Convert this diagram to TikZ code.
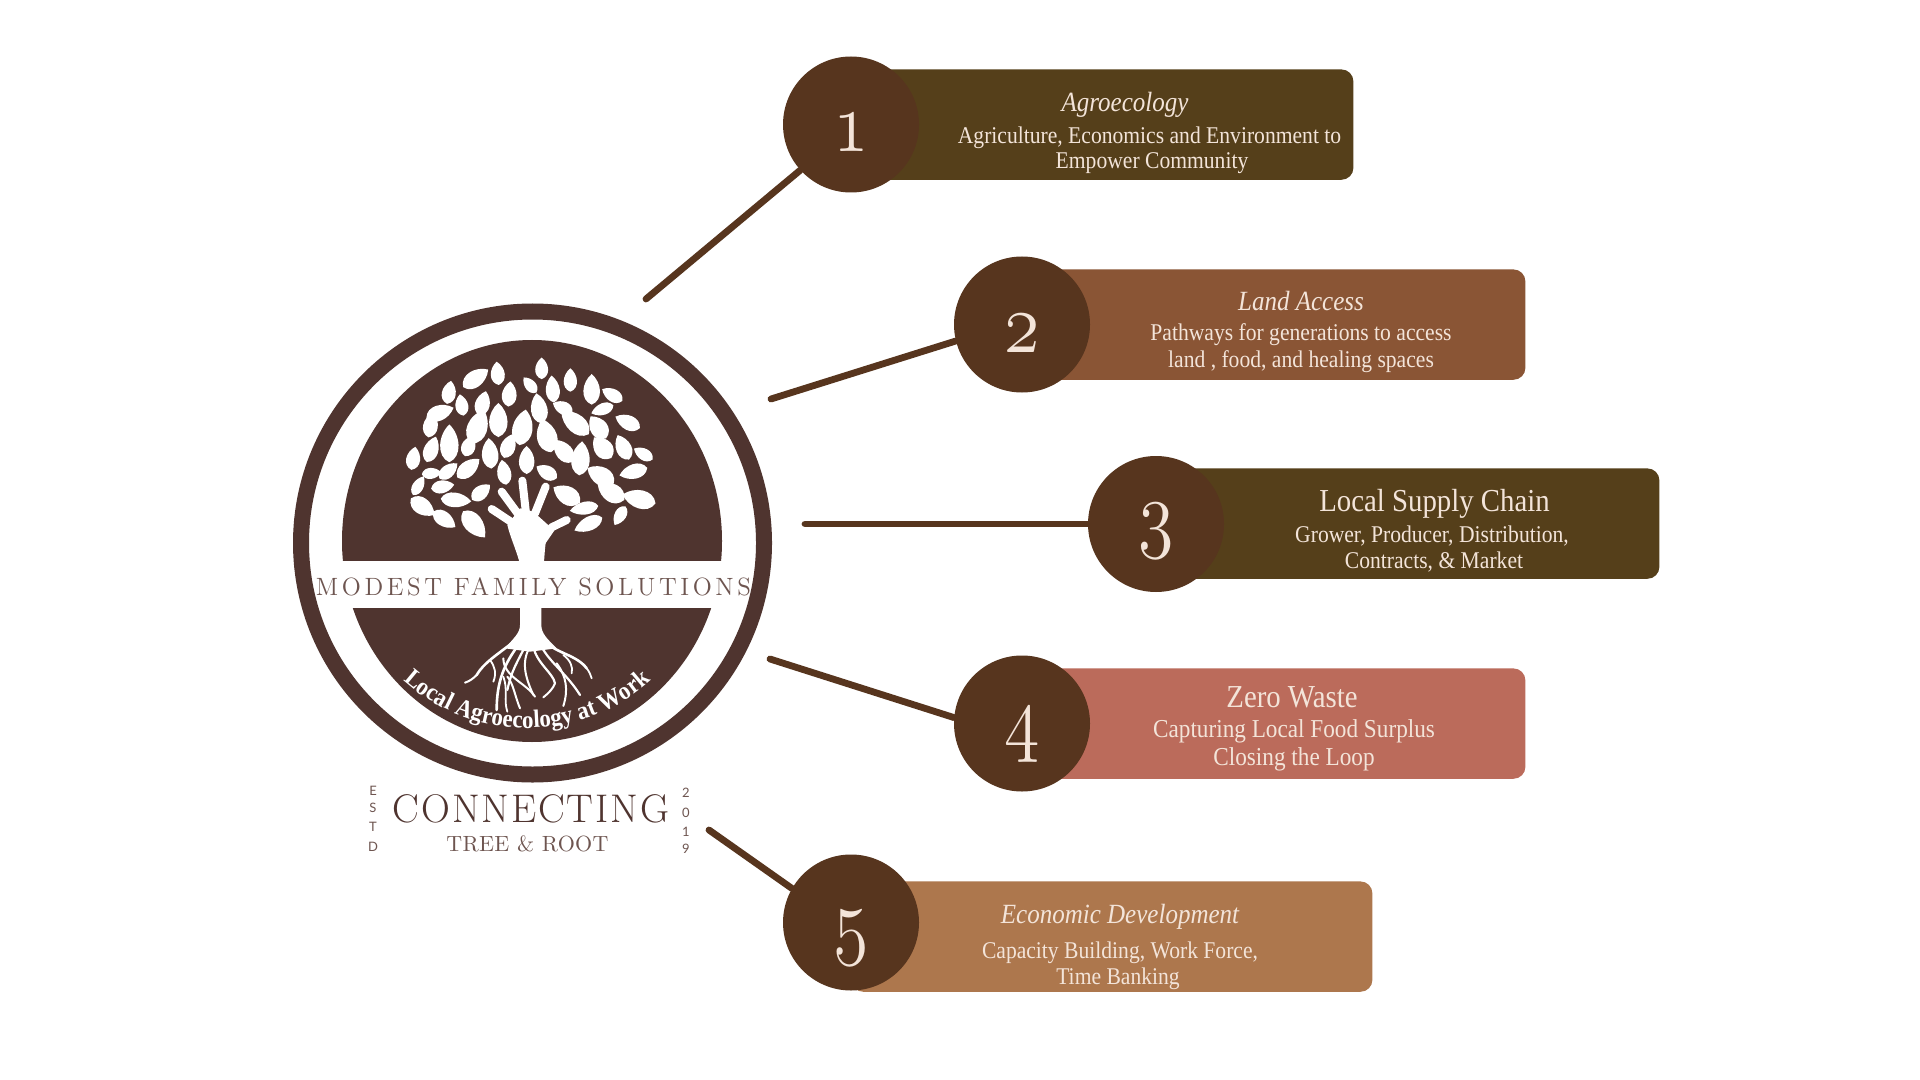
\documentclass[tikz,border=0pt]{standalone}
\usepackage{fontspec}
\usetikzlibrary{decorations.text}
\newfontfamily\barfont[FakeStretch=0.90]{Liberation Serif}
\newfontfamily\arcfont[FakeStretch=0.92]{Liberation Serif}
\newfontfamily\smallsans{Lato}
\newfontfamily\wideA[LetterSpace=14.5]{Latin Modern Roman}
\newfontfamily\wideB[LetterSpace=4.7]{Latin Modern Roman}
\newfontfamily\wideC[LetterSpace=1.5]{Latin Modern Roman}
\definecolor{logobrown}{HTML}{4F342F}
\definecolor{logothin}{HTML}{6E5550}
\definecolor{circbrown}{HTML}{57351E}
\definecolor{barolive}{HTML}{553F1A}
\definecolor{barrust}{HTML}{8A5535}
\definecolor{barcoral}{HTML}{BB6B5B}
\definecolor{bartan}{HTML}{AD774D}
\definecolor{creamtext}{HTML}{F3E4D9}
\newcommand{\oldnum}[1]{\scalebox{1.45}[1.75]{\usefont{OML}{cmm}{m}{it}\fontsize{24.88}{25}\selectfont #1}}
\tikzset{
  numcircle/.style={circle,fill=circbrown,minimum size=68pt,inner sep=0pt},
  barbox/.style={rounded corners=6pt,minimum height=55.2pt,anchor=north west,inner sep=0pt},
  connector/.style={draw=circbrown,line width=3.4pt,line cap=round},
  numeral/.style={anchor=base,inner sep=0pt,text=creamtext},
  headital/.style={anchor=base,inner sep=0pt,text=creamtext,font={\barfont\itshape\fontsize{13.9}{14}\selectfont}},
  headrom/.style={anchor=base,inner sep=0pt,text=creamtext,font={\barfont\fontsize{16}{16}\selectfont}},
  bodyline/.style={anchor=base,inner sep=0pt,text=creamtext,font={\barfont\fontsize{12}{12}\selectfont}},
  bodywide/.style={anchor=base,inner sep=0pt,text=creamtext,font={\barfont\fontsize{12.9}{13}\selectfont}},
  logotext/.style={anchor=base,inner sep=0pt,text=logobrown},
  vletter/.style={anchor=center,inner sep=0pt,text=logothin,font={\smallsans\fontsize{6.5}{6.5}\selectfont}}
}
\begin{document}
\begin{tikzpicture}[x=0.5pt,y=-0.5pt]
\useasboundingbox (0,0) rectangle (1920,1080);
\fill[white] (0,0) rectangle (1920,1080);

% connector free ends
\coordinate (e1) at (646,299);
\coordinate (e2) at (771,399);
\coordinate (e3) at (805,524);
\coordinate (e4) at (770,659);
\coordinate (e5) at (709,830);

% bars
\node[barbox,fill=barolive,minimum width=251pt] (b1) at (851,69) {};
\node[barbox,fill=barrust,minimum width=251.5pt] (b2) at (1022,269) {};
\node[barbox,fill=barolive,minimum width=251.5pt] (b3) at (1156,468) {};
\node[barbox,fill=barcoral,minimum width=251.5pt] (b4) at (1022,668) {};
\node[barbox,fill=bartan,minimum width=260.5pt] (b5) at (851,881) {};

% circles
\node[numcircle] (c1) at (851,124.5) {};
\node[numcircle] (c2) at (1022,324.5) {};
\node[numcircle] (c3) at (1156,524) {};
\node[numcircle] (c4) at (1022,723.5) {};
\node[numcircle] (c5) at (851,922.5) {};

% connectors
\draw[connector] (e1) -- (c1.222);
\draw[connector] (e2) -- (c2.194);
\draw[connector] (e3) -- (c3.180);
\draw[connector] (e4) -- (c4.175);
\draw[connector] (e5) -- (c5.150);

% numerals
\node[numeral] (n1) at (851,152) {\oldnum{1}};
\node[numeral] (n2) at (1022,352) {\oldnum{2}};
\node[numeral] (n3) at (1156,541) {\oldnum{3}};
\node[numeral] (n4) at (1022,745) {\oldnum{4}};
\node[numeral] (n5) at (851,948) {\oldnum{5}};

% bar texts
\node[headital] (h1) at (1125,112) {Agroecology};
\node[bodyline] (s1a) at (1149.5,144) {Agriculture, Economics and Environment to};
\node[bodyline] (s1b) at (1152,169) {Empower Community};
\node[headital] (h2) at (1301,311) {Land Access};
\node[bodyline] (s2a) at (1301,341) {Pathways for generations to access};
\node[bodyline] (s2b) at (1301,367) {land , food, and healing spaces};
\node[headrom] (h3) at (1434.5,511) {Local Supply Chain};
\node[bodyline] (s3a) at (1432,542) {Grower, Producer, Distribution,};
\node[bodyline] (s3b) at (1434,568) {Contracts, \& Market};
\node[headrom] (h4) at (1292,707) {Zero Waste};
\node[bodywide] (s4a) at (1294,737) {Capturing Local Food Surplus};
\node[bodywide] (s4b) at (1294,765) {Closing the Loop};
\node[headital] (h5) at (1120,923) {Economic Development};
\node[bodyline] (s5a) at (1120,958) {Capacity Building, Work Force,};
\node[bodyline] (s5b) at (1118,984) {Time Banking};

% logo
\draw[logobrown,line width=8pt] (532.5,543) circle[radius=231.5];
\fill[logobrown] (532,541) ellipse[x radius=190,y radius=201];
\fill[white] (335,561) rectangle (730,608);

% leaves and hand (coordinates of a 3x crop)
\begin{scope}[shift={(270,290)},x=0.16667pt,y=-0.16667pt]
\foreach \lx/\ly/\la/\ll/\lw in {
617/265/-55/85/45,683/250/5/65/38,815/235/0/60/35,780/285/40/55/30,848/297/5/75/38,
901/270/0/65/36,965/298/0/85/45,1027/315/60/65/35,537/307/-10/65/38,575/345/10/60/35,
638/340/-15/70/40,718/312/-5/70/40,807/355/10/85/45,878/353/65/60/35,997/358/110/65/32,
510/368/-70/80/42,482/405/-10/70/40,623/410/-20/100/55,685/390/0/95/50,758/412/-10/100/55,
830/437/15/95/55,915/398/50/100/50,985/412/35/75/48,1073/397/65/75/40,484/478/-20/75/40,
538/460/0/105/50,596/468/-20/60/38,660/490/5/85/45,715/468/-20/70/40,880/483/40/80/45,
998/473/40/75/50,1060/472/25/75/42,1120/492/60/60/32,430/505/-10/65/38,485/550/-85/55/30,
535/543/-50/65/35,595/535/-50/80/42,770/510/0/78/42,702/547/10/70/38,830/547/60/65/38,
932/505/-5/95/50,992/557/60/85/50,1090/545/105/80/40,445/587/-30/60/30,518/590/-80/65/35,
633/607/-50/65/38,558/630/-95/85/40,890/615/60/85/50,1023/607/60/85/50,1107/627/75/95/50,
458/650/-125/80/45,523/688/-125/75/40,612/703/-140/95/50,942/655/100/80/35,955/702/115/85/38,
1050/677/150/60/32}{
  \fill[white,shift={(\lx,\ly)},rotate=\la,xscale=\lw*1.1,yscale=\ll*1.08]
    (0,-.5) .. controls (.62,-.22) and (.72,.35) .. (0,.5)
            .. controls (-.72,.35) and (-.62,-.22) .. (0,-.5) -- cycle;
}
\fill[white] (748,815) .. controls (735,770) and (722,745) .. (712,705) -- (750,655) -- (790,665)
  -- (840,710) .. controls (825,745) and (825,780) .. (822,815) -- cycle;
\draw[white,line width=4pt,line cap=round,line join=round] (665,657) -- (730,700);
\draw[white,line width=4pt,line cap=round,line join=round] (695,605) -- (750,680);
\draw[white,line width=4pt,line cap=round,line join=round] (757,572) -- (768,670);
\draw[white,line width=4pt,line cap=round,line join=round] (827,590) -- (795,670);
\draw[white,line width=4pt,line cap=round,line join=round] (890,690) -- (845,712) -- (812,760);
\end{scope}

% roots (coordinates of a 3x crop)
\begin{scope}[shift={(270,580)},x=0.16667pt,y=-0.16667pt]
\fill[white] (750,80) -- (750,135) .. controls (750,160) and (730,175) .. (705,205)
  -- (780,215) -- (860,205) .. controls (830,175) and (814,160) .. (814,135) -- (814,80) -- cycle;
\foreach \rw/\rp in {
 1.3/{(725,190) .. controls (680,225) and (640,250) .. (620,285)},
 1.0/{(620,285) .. controls (610,295) and (600,303) .. (585,308)},
 1.3/{(825,185) .. controls (860,220) and (920,225) .. (950,265)},
 0.9/{(950,265) .. controls (958,275) and (962,285) .. (965,295)},
 1.3/{(745,195) .. controls (705,250) and (680,300) .. (680,390)},
 1.1/{(770,190) .. controls (740,250) and (725,270) .. (712,330)},
 1.0/{(712,290) .. controls (730,310) and (735,350) .. (750,385)},
 1.1/{(790,200) .. controls (800,250) and (850,280) .. (855,310)},
 1.0/{(855,310) .. controls (850,325) and (835,340) .. (820,352)},
 1.1/{(810,190) .. controls (830,240) and (890,280) .. (930,345)},
 1.0/{(700,235) .. controls (700,290) and (770,310) .. (795,350)},
 1.0/{(780,200) .. controls (750,250) and (770,300) .. (790,345)},
 1.0/{(860,250) .. controls (890,290) and (895,330) .. (880,378)},
 0.9/{(660,240) .. controls (675,260) and (680,280) .. (670,305)},
 0.9/{(700,290) .. controls (715,330) and (700,360) .. (712,395)},
 0.9/{(880,225) .. controls (900,240) and (910,260) .. (905,280)}}{
  \draw[white,line width=\rw pt,line cap=round] \rp;
}
\end{scope}

% logo texts
\node[logotext,text=logothin,font={\wideA\fontsize{12.5}{12.5}\selectfont}] (logoname) at (533.5,595) {MODEST FAMILY SOLUTIONS};
\path[decorate,decoration={text along path,text align={align=center},
  text={|\arcfont\bfseries\color{white}\fontsize{12.5}{12.5}\selectfont|Local Agroecology at Work}}]
  (527,543) ++(132:185) arc[start angle=132,end angle=48,radius=185];
\node[logotext,font={\wideB\fontsize{20}{20}\selectfont}] (conn) at (531,822) {CONNECTING};
\node[logotext,text=logothin,font={\wideC\fontsize{11}{11}\selectfont}] (tree) at (527.5,851) {TREE \& ROOT};
\node[vletter] (v1) at (373,791) {E};
\node[vletter] (v2) at (373,808) {S};
\node[vletter] (v3) at (373,827) {T};
\node[vletter] (v4) at (373,847) {D};
\node[vletter] (y1) at (686,793) {2};
\node[vletter] (y2) at (686,813) {0};
\node[vletter] (y3) at (686,832) {1};
\node[vletter] (y4) at (686,849) {9};
\end{tikzpicture}
\end{document}
